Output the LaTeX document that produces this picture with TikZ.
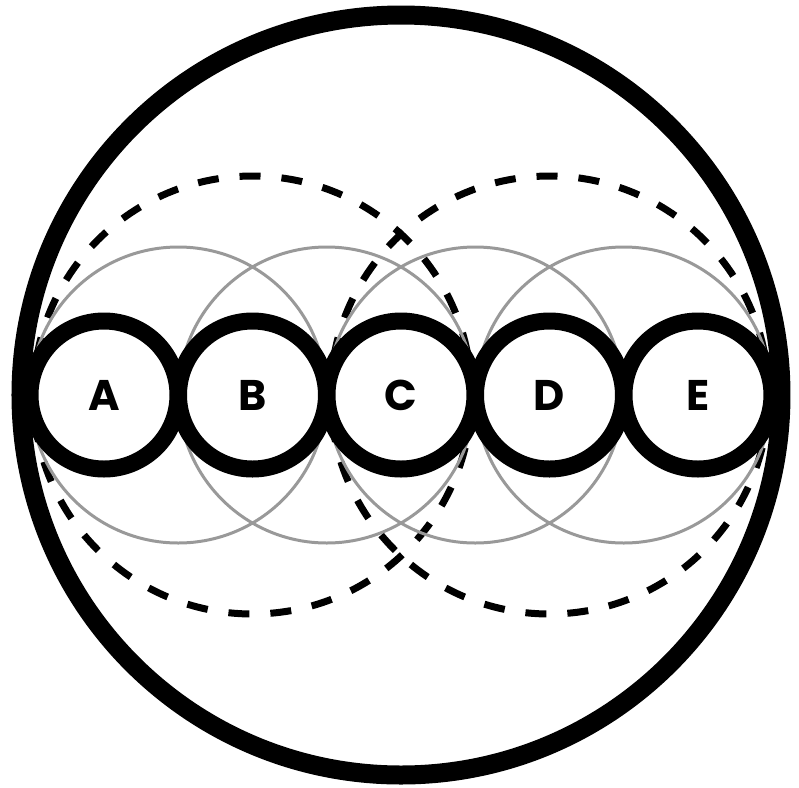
\documentclass[tikz,border=0pt]{standalone}
\usepackage{fontspec}
\setmainfont{Poppins}
\usetikzlibrary{calc}
\begin{document}
\begin{tikzpicture}[
    ring/.style={circle, draw, line width=0.17cm, fill=white, inner sep=0pt,
      minimum size=1.48cm, font=\fontsize{12.2}{14}\selectfont\bfseries},
    halo/.style={draw=black!40, line width=0.03cm},
    reach/.style={draw, line width=0.07cm, dash pattern=on 0.21cm off 0.21cm}]
  \useasboundingbox (-4.01,-3.92) rectangle (3.98,3.95);
  \coordinate (O) at (0,0);
  \foreach \n [count=\i from -2] in {A,B,C,D,E}
    \coordinate (c\n) at (1.485*\i,0);
  % outer circle
  \draw[line width=0.19cm] (O) circle (3.80);
  % dashed ranges
  \draw[reach] (cB) circle (2.19);
  \draw[reach] (cD) circle (2.19);
  % grey overlaps
  \draw[halo] ($(cA)!.5!(cB)$) circle (1.48);
  \draw[halo] ($(cB)!.5!(cC)$) circle (1.48);
  \draw[halo] ($(cC)!.5!(cD)$) circle (1.48);
  \draw[halo] ($(cD)!.5!(cE)$) circle (1.48);
  % the five rings
  \foreach \n in {A,B,C,D,E}
    \node[ring] (\n) at (c\n) {\n};
\end{tikzpicture}
\end{document}
